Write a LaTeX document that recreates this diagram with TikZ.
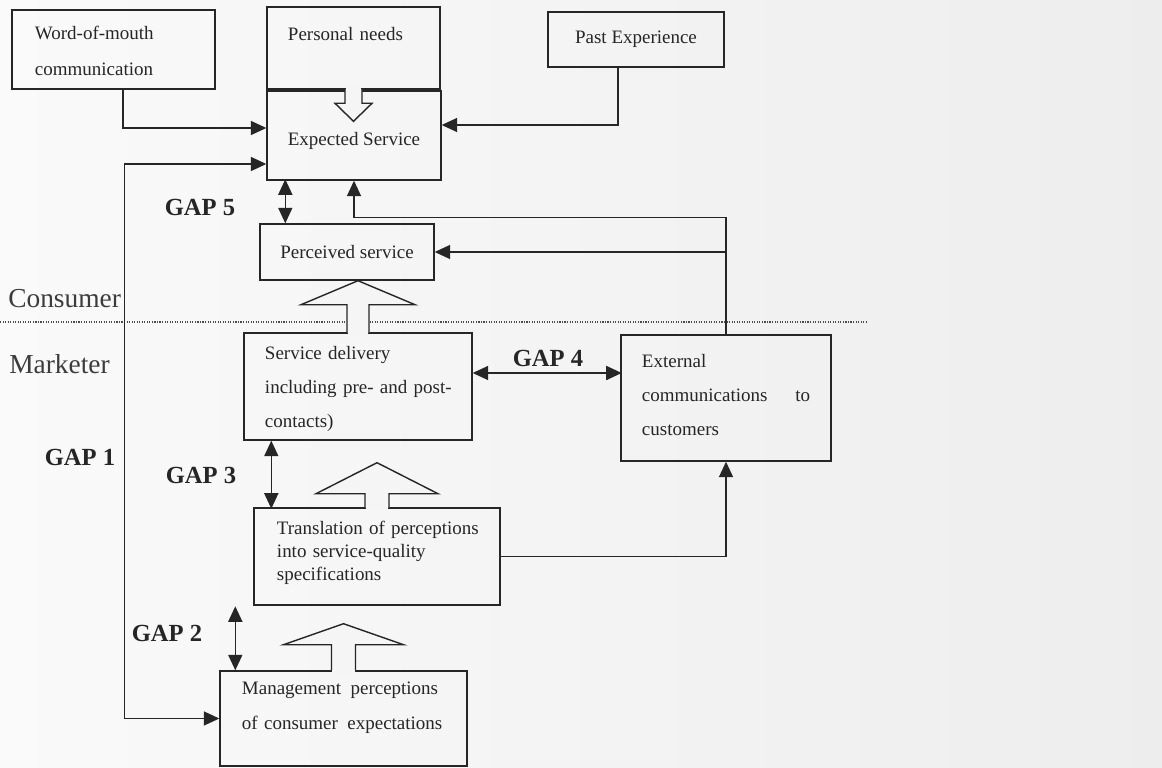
\documentclass[tikz,border=0pt]{standalone}
\usepackage{fontspec}
\setmainfont{Liberation Serif}
\usetikzlibrary{arrows.meta,calc}

\colorlet{pagebg}{gray!8}
\colorlet{ink}{black!85}

% hollow block arrow: base, target, gap to target, stem half, wing half, head
\newcommand{\hollowarrow}[6]{%
  \coordinate (hb) at (#1);
  \coordinate (ht0) at (#1 |- #2);
  \coordinate (ht) at ($(ht0)+(0,#3)$);
  \fill[pagebg] ($(hb)+({-#4+0.9},-3)$) rectangle ($(hb)+({#4-0.9},3)$);
  \filldraw[fill=pagebg, draw=ink, line width=1pt]
    ($(hb)+(-#4,0)$) -- ($(ht)+(-#4,#6)$) -- ($(ht)+(-#5,#6)$) -- (ht)
    -- ($(ht)+(#5,#6)$) -- ($(ht)+(#4,#6)$) -- ($(hb)+(#4,0)$);
}

\begin{document}
\begin{tikzpicture}[x=0.025cm, y=-0.025cm,
  blk/.style 2 args={draw=ink, line width=1pt, inner sep=0pt, text=ink,
    minimum width=#1*0.025cm, minimum height=#2*0.025cm,
    font=\fontsize{13.5}{16}\selectfont},
  spread/.style={font=\fontsize{13.5}{#1}\selectfont},
  gaplabel/.style={font=\fontsize{17.5}{20}\selectfont\bfseries, text=ink, inner sep=0pt},
  sidelabel/.style={font=\fontsize{19.5}{22}\selectfont, text=ink!90, inner sep=0pt, anchor=west},
  arr/.style={draw=ink, line width=1pt, -{Triangle[length=11pt,width=10pt]}},
  arr2/.style={draw=ink, line width=1pt,
    {Triangle[length=11pt,width=10pt]}-{Triangle[length=11pt,width=10pt]}}]

  % scanned page
  \shade[left color=gray!4, right color=gray!14] (0,0) rectangle (1162,768);
  \useasboundingbox (0,0) rectangle (1162,768);

  % consumer side
  \node[blk={203}{79}, spread=25.6pt, align=left, text width=3.925cm, text depth=24.1pt]
    (wom) at (113.5,49.5) {Word-of-mouth\\communication};
  \node[blk={173}{82}, align=left, text width=3.275cm, text depth=20.5pt]
    (pers) at (353.5,48) {Personal needs};
  \node[blk={174}{89}, text height=16.4pt] (exp) at (354,135.5) {Expected Service};
  \node[blk={176}{55}] (past) at (636,39.5) {Past Experience};
  \node[blk={174}{56}] (perc) at (347,252) {Perceived service};

  % marketer side
  \node[blk={228}{107}, spread=24.2pt, align=left, text width=4.65cm, text depth=48.3pt]
    (deliv) at (358,386.5) {Service delivery\\\mbox{including pre- and post-}\\contacts)};
  \node[blk={210}{126}, spread=24.2pt, align=left, text width=4.2cm, text depth=53.2pt]
    (ext) at (726,398) {External\\communications\hfill to\\customers};
  \node[blk={246}{97}, spread=16.4pt, align=left, text width=5.0cm, text depth=41.2pt]
    (trans) at (377,556.5) {\mbox{Translation of perceptions}\\into service-quality\\specifications};
  \node[blk={247}{95}, spread=24.9pt, align=left, text width=5.075cm, text depth=42.6pt]
    (mgmt) at (343.5,718.5) {\mbox{Management\enspace perceptions}\\\mbox{of consumer\enspace expectations}};

  % consumer / marketer divide
  \draw[gray!60!black, densely dotted, line width=0.8pt] (0,322) -- (868,322);
  \node[sidelabel] (cons) at (8,299) {Consumer};
  \node[sidelabel] (mark) at (9,364) {Marketer};

  % block arrows
  \hollowarrow{pers.south}{exp.north}{31}{8.5}{18.5}{-18}
  \hollowarrow{deliv.north}{perc.south}{0}{11}{57}{24}
  \hollowarrow{trans.north}{deliv.south}{22}{12}{61}{31}
  \hollowarrow{mgmt.north}{trans.south}{18}{12}{60}{21}

  % inputs to expected service
  \draw[arr] ($(wom.south)+(9.5,0)$) |- ($(exp.west)+(0,-7.5)$);
  \draw[arr] ($(past.south)+(-18,0)$) |- ($(exp.east)+(0,-10.5)$);
  \draw[arr2] ($(exp.west)+(0,28.5)$) -- ++(-142,0) |- (mgmt.west);
  \draw[arr] (ext.north) |- ($(exp.south)+(0,37)$) -- (exp.south);
  \draw[arr] (ext.north |- perc.east) -- (perc.east);
  \draw[arr] (trans.east) -| (ext.south);

  % gaps
  \draw[arr2] ($(perc.north west)+(26,0)$) -- ++(0,-44);
  \draw[arr2] ($(deliv.east)+(0,-13.5)$) -- ++(149,0);
  \draw[arr2] ($(deliv.south west)+(28,0)$) -- ++(0,68);
  \draw[arr2] ($(mgmt.north west)+(16,0)$) -- ++(0,-64);
  \node[gaplabel] (g5) at (200,207) {GAP 5};
  \node[gaplabel] (g4) at (548,358) {GAP 4};
  \node[gaplabel] (g1) at (80,457) {GAP 1};
  \node[gaplabel] (g3) at (201,475) {GAP 3};
  \node[gaplabel] (g2) at (167,633) {GAP 2};
\end{tikzpicture}
\end{document}
